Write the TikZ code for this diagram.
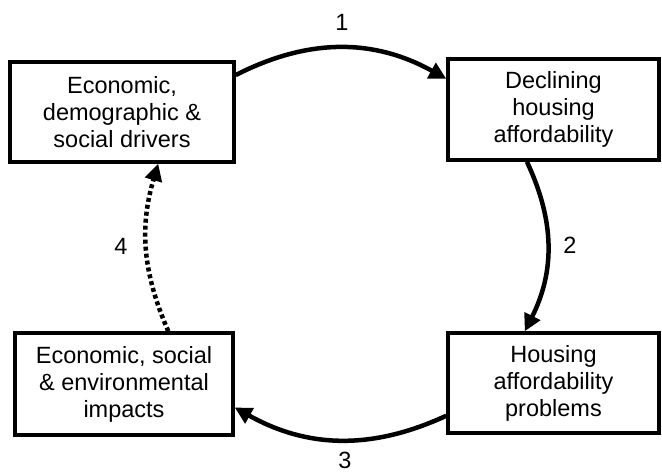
\documentclass[tikz,border=0pt]{standalone}
\usepackage{fontspec}
\setmainfont{Liberation Sans}
\usetikzlibrary{arrows.meta}
\begin{document}
\begin{tikzpicture}[x=1pt,y=1pt,
  box/.style={draw,line width=3.5pt,align=center,inner sep=0pt,font=\fontsize{23.5}{27}\selectfont},
  link/.style={line width=4.5pt,-{Triangle[length=17pt,width=17pt]}},
  num/.style={inner sep=0pt,font=\fontsize{23.5}{27}\selectfont}]
\useasboundingbox (0,0) rectangle (662,474);
\node[box,minimum width=224pt,minimum height=100pt] (drivers) at (122,362) {Economic,\\demographic \&\\social drivers};
\node[box,minimum width=211pt,minimum height=101pt] (declining) at (553.5,364.5) {Declining\\housing\\affordability};
\node[box,minimum width=218pt,minimum height=102pt] (impacts) at (124,90) {Economic, social\\\& environmental\\impacts};
\node[box,minimum width=211pt,minimum height=100pt] (problems) at (553.5,91) {Housing\\affordability\\problems};
% cycle labels
\node[num] (n1) at (342,452) {1};
\node[num] (n2) at (570,229) {2};
\node[num] (n3) at (345,14) {3};
\node[num] (n4) at (121,228) {4};
% arrows
\draw[link] (drivers.18) to[bend left=28] (declining.164);
\draw[link] (declining.243) to[bend left=26] (problems.119);
\draw[link] (problems.197) to[bend left=27] (impacts.-12);
\draw[link,dash pattern=on 4pt off 3pt] (impacts.50) to[bend left=20] (drivers.-55);
\end{tikzpicture}
\end{document}
